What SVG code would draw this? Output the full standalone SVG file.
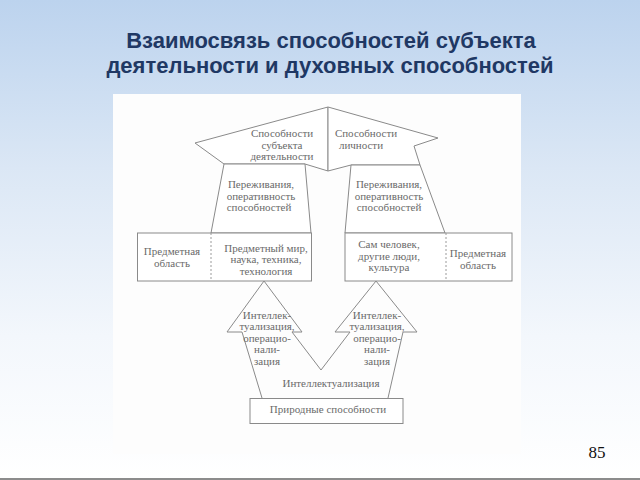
<svg xmlns="http://www.w3.org/2000/svg" width="640" height="480" viewBox="0 0 640 480">
<defs>
<linearGradient id="bg" x1="0" y1="0" x2="0" y2="1">
<stop offset="0" stop-color="#bcd3ee"/>
<stop offset="0.35" stop-color="#dbe7f5"/>
<stop offset="0.7" stop-color="#f3f7fc"/>
<stop offset="1" stop-color="#ffffff"/>
</linearGradient>
<style>
.s{fill:#ffffff;stroke:#8a8a8a;stroke-width:1;stroke-linejoin:miter}
.c{fill:none;stroke:#8a8a8a;stroke-width:1;stroke-linejoin:miter}
.d{stroke:#9a9a9a;stroke-width:1;stroke-dasharray:2 2;fill:none}
.t{font-family:"Liberation Serif","DejaVu Serif",serif;font-size:11px;fill:#6a6a6a;text-anchor:middle}
.h{font-family:"Liberation Sans",Arial,sans-serif;font-size:22px;font-weight:bold;fill:#1f3864;text-anchor:middle}
</style>
</defs>
<rect x="0" y="0" width="640" height="480" fill="url(#bg)"/>
<rect x="113" y="94" width="408" height="360" fill="#fdfdfd"/>
<rect x="0" y="478" width="640" height="2" fill="#8c8c8c"/>
<text class="h" x="331" y="48">Взаимосвязь способностей субъекта</text>
<text class="h" x="330" y="73">деятельности и духовных способностей</text>
<text x="597" y="458" font-family="Liberation Serif,serif" font-size="17" fill="#111" text-anchor="middle">85</text>

<g id="connectors">
<polyline id="arrow-left" class="c" points="262,398 242,332 227,332 264,281 302,332 292,332 321,370"/>
<polyline id="arrow-right" class="c" points="321,370 350,332 335,332 376,281 417,332 403,332 388,398"/>
</g>

<g id="roof-left">
<polygon class="s" points="195,143 328,107 328,171 305,164 224,164"/>
<text class="t" x="282" y="137">Способности</text>
<text class="t" x="282" y="148.5">субъекта</text>
<text class="t" x="282" y="160">деятельности</text>
</g>
<g id="roof-right">
<polygon class="s" points="328,107 438,138 414,146 420,165 351,165 328,171"/>
<text class="t" x="366" y="137">Способности</text>
<text class="t" x="361" y="148.5">личности</text>
</g>
<g id="shaft-left">
<polygon class="s" points="224,164 305,164 311,233 211,233"/>
<text class="t" x="261" y="188">Переживания,</text>
<text class="t" x="261" y="199.5">оперативность</text>
<text class="t" x="259" y="211">способностей</text>
</g>
<g id="shaft-right">
<polygon class="s" points="351,165 420,165 445,233 345,233"/>
<text class="t" x="389" y="188">Переживания,</text>
<text class="t" x="389" y="199.5">оперативность</text>
<text class="t" x="389" y="211">способностей</text>
</g>
<g id="box-left">
<rect class="s" x="137.5" y="233" width="174" height="48"/>
<line class="d" x1="211" y1="233" x2="211" y2="281"/>
<text class="t" x="172" y="255">Предметная</text>
<text class="t" x="172" y="266.5">область</text>
<text class="t" x="266" y="251.5">Предметный мир,</text>
<text class="t" x="266" y="263">наука, техника,</text>
<text class="t" x="266" y="274.5">технология</text>
</g>
<g id="box-right">
<rect class="s" x="345" y="233" width="167" height="48"/>
<line class="d" x1="446" y1="233" x2="446" y2="281"/>
<text class="t" x="389" y="248">Сам человек,</text>
<text class="t" x="389" y="259.5">другие люди,</text>
<text class="t" x="389" y="271">культура</text>
<text class="t" x="478" y="257">Предметная</text>
<text class="t" x="478" y="268.5">область</text>
</g>
<g id="label-left">
<text class="t" x="267" y="318.5">Интеллек-</text>
<text class="t" x="267" y="330">туализация,</text>
<text class="t" x="267" y="341.5">операцио-</text>
<text class="t" x="267" y="353">нали-</text>
<text class="t" x="267" y="364.5">зация</text>
</g>
<g id="label-right">
<text class="t" x="377" y="318.5">Интеллек-</text>
<text class="t" x="377" y="330">туализация,</text>
<text class="t" x="377" y="341.5">операцио-</text>
<text class="t" x="377" y="353">нали-</text>
<text class="t" x="377" y="364.5">зация</text>
</g>
<g id="label-center">
<text class="t" x="331" y="387">Интеллектуализация</text>
</g>
<g id="box-bottom">
<rect class="s" x="250" y="398.5" width="153" height="25"/>
<text class="t" x="328" y="413">Природные способности</text>
</g>
</svg>
